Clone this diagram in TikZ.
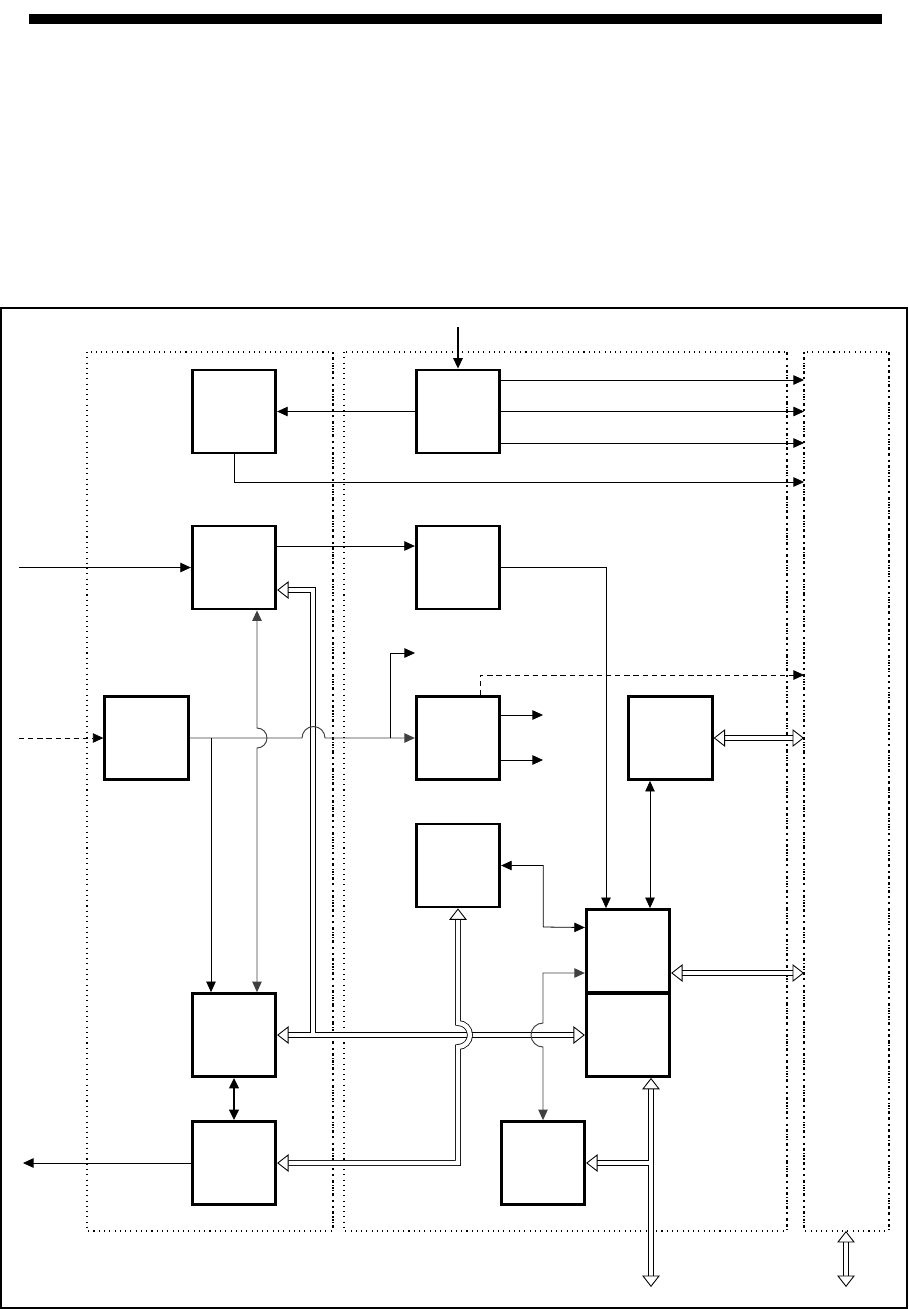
\documentclass[tikz,border=0pt]{standalone}
\usetikzlibrary{arrows.meta,calc}
\begin{document}
\begin{tikzpicture}[x=0.02cm,y=0.02cm,
  ftip/.tip={Triangle[length=6pt,width=5.4pt]},
  htip/.tip={Triangle[open,length=6.5pt,width=10pt,line width=0.5pt]},
  blk/.style={draw,line width=1.6pt,minimum width=1.67cm,minimum height=1.66cm,inner sep=0pt},
  ln/.style={line width=0.45pt},
  gln/.style={line width=0.55pt,draw=black!75},
  dln/.style={line width=0.5pt,dash pattern=on 3pt off 2.2pt},
  bus/.style={line width=0.45pt,double=white,double distance=2.4pt},
  region/.style={line width=0.6pt,dash pattern=on 0.6pt off 2.4pt},
  redge/.style={line width=1.2pt,dash pattern=on 1.2pt off 2.4pt},
]
\useasboundingbox (0,0) rectangle (909,-1309);
\fill (29,-14) rectangle (882,-24);
\draw[line width=0.6pt] (1,-308) rectangle (907,-1308);
% regions
\draw[region] (87,-352) rectangle (333,-1231);
\draw[region] (344,-352) rectangle (787,-1231);
\draw[region] (804,-352) rectangle (889,-1231);
\draw[redge] (333,-352) -- (333,-1231);
\draw[redge] (787,-352) -- (787,-1231);
\draw[redge] (804,-352) -- (804,-1231);
\draw[redge] (889,-352) -- (889,-1231);
% blocks
\node[blk] (A) at (234,-411.5) {};
\node[blk] (B) at (458,-411.5) {};
\node[blk] (C) at (234,-567.5) {};
\node[blk] (D) at (458,-567.5) {};
\node[blk] (E) at (146.5,-738) {};
\node[blk] (F) at (458,-738) {};
\node[blk] (G) at (670.5,-738) {};
\node[blk] (H) at (458,-865.5) {};
\node[blk] (I1) at (628,-951) {};
\node[blk] (I2) at (628,-1035) {};
\node[blk] (J) at (234,-1035) {};
\node[blk] (K) at (234,-1163) {};
\node[blk] (L) at (543,-1163) {};
% free ends
\coordinate (tB) at (458,-327);
\coordinate (o1) at (804,-380);
\coordinate (o2) at (804,-411.5);
\coordinate (o3) at (804,-443);
\coordinate (o4) at (804,-482);
\coordinate (iC) at (19,-567.5);
\coordinate (iE) at (19,-738);
\coordinate (up) at (415,-653);
\coordinate (f1) at (543,-715);
\coordinate (f2) at (543,-760);
\coordinate (o5) at (804,-675);
\coordinate (o6) at (804,-738);
\coordinate (o7) at (804,-973);
\coordinate (oK) at (23,-1163);
\coordinate (b1) at (651,-1287);
\coordinate (b2t) at (846,-1231);
\coordinate (b2b) at (846,-1287);
\coordinate (j1) at (211,-738);
\coordinate (j2) at (390,-738);
% connectors
\draw[line width=0.9pt,-{ftip}] (tB) -- (B.north);
\draw[ln,-{ftip}] (B.west) -- (A.east);
\draw[ln,-{ftip}] (B.east |- o1) -- (o1);
\draw[ln,-{ftip}] (B.east) -- (o2);
\draw[ln,-{ftip}] (B.east |- o3) -- (o3);
\draw[ln,-{ftip}] (A.south) |- (o4);
\draw[ln,-{ftip}] ($(C.east)+(0,21.5)$) -- ($(D.west)+(0,21.5)$);
\draw[ln,-{ftip}] (iC) -- (C.west);
\draw[ln,-{ftip}] (D.east) -| ($(I1.north)+(-22,0)$);
\draw[dln,-{ftip}] (iE) -- (E.west);
% buses first
\draw[bus,-{htip}] (313,-1035) |- ($(C.east)+(0,-22.5)$);
\draw[bus,{htip}-{htip}] (J.east) -- (I2.west);
\draw[white,line width=2.4pt] (313,-1035) -- (313,-1029);
\draw[bus,{htip}-{htip}] (K.east) -| (458,-1047) arc[start angle=-90,end angle=90,radius=12] -- (H.south);
\draw[bus,-{htip}] (651,-1163) -- (L.east);
\draw[bus,{htip}-{htip}] ($(I2.south)+(23,0)$) -- (b1);
\draw[white,line width=2.4pt] (651,-1163) -- (645,-1163);
\draw[bus,{htip}-{htip}] (G.east) -- (o6);
\draw[bus,{htip}-{htip}] ($(I1.east)+(0,-22)$) -- (o7);
\draw[bus,{htip}-{htip}] (b2t) -- (b2b);
% signal lines
\draw[gln,-{ftip}] (E.east) -- (302,-738) arc[start angle=180,end angle=0,radius=11.5] -- (F.west);
\draw[ln,-{ftip}] (j1) -- (j1 |- J.north);
\draw[ln,-{ftip}] (j2) |- (up);
\draw[gln,{ftip}-{ftip}] ($(C.south)+(23,0)$) -- (257,-728) arc[start angle=90,end angle=-90,radius=10] -- ($(J.north)+(23,0)$);
\draw[dln,-{ftip}] ($(F.north)+(22,0)$) |- (o5);
\draw[ln,-{ftip}] (F.east |- f1) -- (f1);
\draw[ln,-{ftip}] (F.east |- f2) -- (f2);
\draw[ln,{ftip}-{ftip}] ($(G.south)+(-20.5,0)$) -- ($(I1.north)+(22,0)$);
\draw[ln,{ftip}-{ftip}] (H.east) -| ($(H.east)+(42,-61.5)$) -- ($(I1.west)+(0,23.5)$);
\draw[gln,{ftip}-{ftip}] ($(I1.west)+(0,-22)$) -| (543,-1023) arc[start angle=90,end angle=270,radius=12] -- (L.north);
\draw[ln,-{ftip}] (K.west) -- (oK);
\draw[line width=1.3pt,{ftip}-{ftip}] (J.south) -- (K.north);
\end{tikzpicture}
\end{document}
